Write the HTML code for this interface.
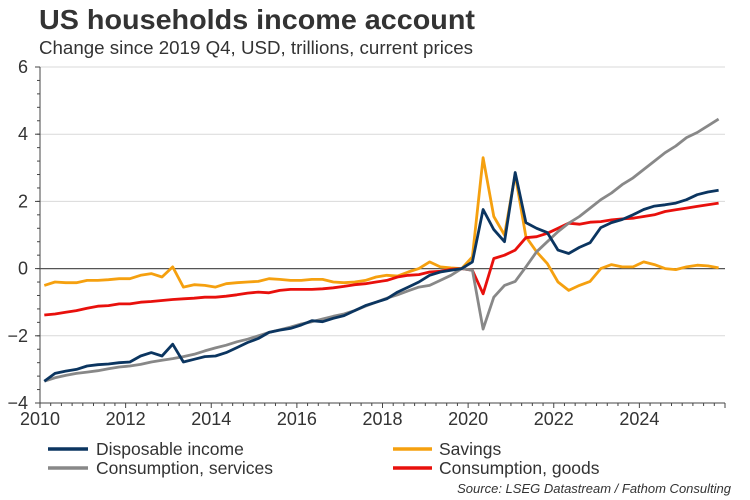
<!DOCTYPE html>
<html><head><meta charset="utf-8"><style>
body{margin:0;background:#fff;width:750px;height:500px;overflow:hidden;font-family:"Liberation Sans",sans-serif}
svg{display:block}
</style></head><body>
<svg width="750" height="500">
<text x="39" y="29" font-size="28" font-weight="bold" fill="#333" textLength="436" lengthAdjust="spacingAndGlyphs">US households income account</text>
<text x="39" y="54" font-size="18" fill="#333" textLength="434" lengthAdjust="spacingAndGlyphs">Change since 2019 Q4, USD, trillions, current prices</text>
<g id="grid"></g>
<g id="axes"></g>
<g id="series"></g>
<g>
<g><line x1="48" y1="449" x2="88" y2="449" stroke="#0b3560" stroke-width="3.5"/><text x="96" y="455" font-size="17.5" fill="#333">Disposable income</text></g>
<g><line x1="393" y1="449" x2="432" y2="449" stroke="#f5a00f" stroke-width="3.5"/><text x="439" y="455" font-size="17.5" fill="#333">Savings</text></g>
<g><line x1="48" y1="468" x2="88" y2="468" stroke="#888" stroke-width="3.5"/><text x="96" y="474" font-size="17.5" fill="#333">Consumption, services</text></g>
<g><line x1="393" y1="468" x2="432" y2="468" stroke="#e8100c" stroke-width="3.5"/><text x="439" y="474" font-size="17.5" fill="#333">Consumption, goods</text></g>
</g>
<text x="731" y="493" font-size="13" font-style="italic" fill="#333" text-anchor="end">Source: LSEG Datastream / Fathom Consulting</text>
</svg>
<script>
const yTicks=[6,4,2,0,-2,-4];
const xTickYears=[2010,2012,2014,2016,2018,2020,2022,2024];
const startYear=2010.1;
const disposable=[-3.35,-3.12,-3.05,-3.0,-2.9,-2.86,-2.84,-2.8,-2.78,-2.6,-2.5,-2.6,-2.25,-2.78,-2.7,-2.62,-2.6,-2.5,-2.35,-2.2,-2.08,-1.9,-1.83,-1.78,-1.68,-1.55,-1.58,-1.48,-1.4,-1.25,-1.1,-1.0,-0.9,-0.7,-0.55,-0.4,-0.2,-0.1,-0.05,0,0.2,1.76,1.16,0.8,2.86,1.37,1.2,1.07,0.55,0.45,0.63,0.77,1.22,1.37,1.46,1.6,1.76,1.86,1.9,1.95,2.05,2.2,2.28,2.33];
const savings=[-0.5,-0.4,-0.42,-0.42,-0.35,-0.35,-0.33,-0.3,-0.3,-0.2,-0.15,-0.25,0.05,-0.55,-0.48,-0.5,-0.55,-0.45,-0.42,-0.4,-0.38,-0.3,-0.32,-0.35,-0.35,-0.32,-0.32,-0.4,-0.42,-0.4,-0.35,-0.25,-0.2,-0.22,-0.1,0.0,0.2,0.05,0.02,0,0.35,3.3,1.55,1.0,2.8,0.95,0.5,0.15,-0.4,-0.65,-0.5,-0.38,0.0,0.12,0.05,0.05,0.2,0.12,0.0,-0.03,0.05,0.1,0.08,0.02];
const services=[-3.35,-3.25,-3.18,-3.12,-3.08,-3.04,-2.98,-2.93,-2.9,-2.85,-2.78,-2.73,-2.68,-2.62,-2.55,-2.45,-2.36,-2.28,-2.18,-2.1,-2.0,-1.9,-1.82,-1.74,-1.65,-1.58,-1.5,-1.42,-1.35,-1.25,-1.12,-1.0,-0.88,-0.78,-0.66,-0.55,-0.5,-0.35,-0.2,0,-0.05,-1.8,-0.85,-0.5,-0.38,0.05,0.5,0.8,1.1,1.35,1.55,1.8,2.05,2.25,2.5,2.7,2.95,3.2,3.45,3.65,3.9,4.05,4.25,4.45];
const goods=[-1.38,-1.35,-1.3,-1.25,-1.18,-1.12,-1.1,-1.05,-1.05,-1.0,-0.98,-0.95,-0.92,-0.9,-0.88,-0.85,-0.85,-0.82,-0.78,-0.73,-0.7,-0.72,-0.65,-0.62,-0.62,-0.62,-0.6,-0.57,-0.53,-0.48,-0.45,-0.4,-0.35,-0.25,-0.2,-0.18,-0.1,-0.08,-0.02,0,-0.05,-0.75,0.3,0.4,0.55,0.92,0.95,1.05,1.2,1.35,1.32,1.38,1.4,1.45,1.48,1.5,1.55,1.6,1.7,1.75,1.8,1.85,1.9,1.95];

const NS='http://www.w3.org/2000/svg';
const X0=40,XR=725,YT=67,YB=403;
function xs(t){return X0+(t-2010)*(XR-X0)/16;}
function ys(v){return YT+(6-v)*(YB-YT)/10;}
function mk(tag,attrs,parent){const e=document.createElementNS(NS,tag);for(const k in attrs)e.setAttribute(k,attrs[k]);parent.appendChild(e);return e;}
const grid=document.getElementById('grid'),axes=document.getElementById('axes'),ser=document.getElementById('series');
yTicks.forEach(v=>{
  if(v!==0&&v!==-4){const g=mk('line',{x1:X0,x2:XR,y1:ys(v),y2:ys(v),stroke:'#d9d9d9','stroke-width':1},grid);
  
  }
  const t=mk('text',{x:X0-12,y:ys(v)+6,'font-size':18,fill:'#333','text-anchor':'end'},axes);
  t.textContent=v===0?'0':(v<0?'\u2212'+Math.abs(v):String(v));
  
  
  mk('line',{x1:X0-5,x2:X0,y1:ys(v),y2:ys(v),stroke:'#444'},axes);
});
for(let v=-4;v<=6;v+=0.4){mk('line',{x1:X0-3,x2:X0,y1:ys(v),y2:ys(v),stroke:'#444'},axes);}
for(let q=0;q<=64;q++){const t=2010+q/4;mk('line',{x1:xs(t),x2:xs(t),y1:YB,y2:YB+(q%8===0?5:3),stroke:'#444'},axes);}
xTickYears.forEach(y=>{const t=mk('text',{x:xs(y),y:YB+22,'font-size':18,fill:'#333','text-anchor':'middle'},axes);t.textContent=y;
  
  });
const ya=mk('line',{x1:X0,x2:X0,y1:YT,y2:YB,stroke:'#444'},axes);


const xa=mk('line',{x1:X0,x2:XR,y1:YB,y2:YB,stroke:'#444'},axes);


const zl=mk('line',{x1:X0,x2:XR,y1:ys(0),y2:ys(0),stroke:'#555','stroke-width':1.2},axes);


function line(arr,color,name){
  const d=arr.map((v,i)=>(i?'L':'M')+xs(startYear+i/4).toFixed(1)+','+ys(v).toFixed(1)).join('');
  const p=mk('path',{d:d,fill:'none',stroke:color,'stroke-width':2.8,'stroke-linejoin':'round'},ser);
  
  
}
line(savings,'#f5a00f','savings-line');
line(goods,'#e8100c','consumption-goods-line');
line(services,'#888','consumption-services-line');
line(disposable,'#0b3560','disposable-income-line');
</script>
</body></html>
